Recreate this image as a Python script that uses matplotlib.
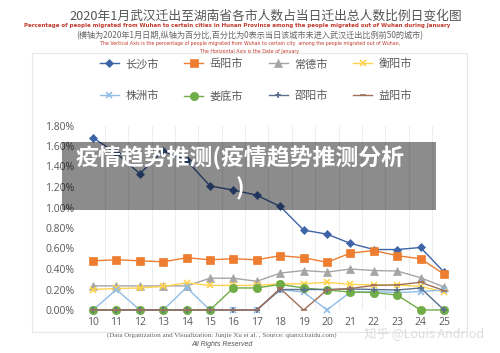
import matplotlib
matplotlib.use("Agg")
import matplotlib.pyplot as plt
from matplotlib.patches import Rectangle
from matplotlib.ticker import FuncFormatter

plt.rcParams['font.family'] = ['Noto Sans CJK SC', 'DejaVu Sans']

days = [10, 11, 12, 13, 14, 15, 16, 17, 18, 19, 20, 21, 22, 23, 24, 25]

changsha = [1.68, 1.53, 1.33, 1.55, 1.46, 1.21, 1.17, 1.12, 1.01, 0.78, 0.74, 0.65, 0.59, 0.59, 0.61, 0.37]
yueyang = [0.48, 0.49, 0.48, 0.47, 0.51, 0.49, 0.50, 0.49, 0.53, 0.51, 0.465, 0.555, 0.58, 0.53, 0.50, 0.35]
changde = [0.235, 0.235, 0.235, 0.235, 0.235, 0.31, 0.31, 0.28, 0.36, 0.385, 0.37, 0.40, 0.385, 0.38, 0.315, 0.225]
hengyang = [0.20, 0.21, 0.215, 0.23, 0.265, 0.24, 0.24, 0.24, 0.255, 0.255, 0.27, 0.25, 0.245, 0.245, 0.23, 0.175]
zhuzhou = [0, 0.20, 0, 0, 0.22, 0, 0, 0, 0.20, 0.175, 0, 0.175, 0.18, 0.17, 0.18, 0.195]
loudi = [0, 0, 0, 0, 0, 0, 0.215, 0.215, 0.25, 0.215, 0.195, 0.175, 0.17, 0.145, 0, 0]
shaoyang = [0, 0, 0, 0, 0, 0, 0, 0, 0.20, 0.20, 0.20, 0.205, 0.20, 0.195, 0.215, 0]
yiyang = [0, 0, 0, 0, 0, 0, 0, 0, 0.21, 0, 0.195, 0.21, 0.24, 0.245, 0.27, 0.19]

series = [
    ("长沙市", changsha, "#3e64a8", "D", 4),
    ("岳阳市", yueyang, "#ed7d31", "s", 6),
    ("常德市", changde, "#a5a5a5", "^", 6),
    ("衡阳市", hengyang, "#ffd34d", "x", 5),
    ("株洲市", zhuzhou, "#8fbde6", "x", 5),
    ("娄底市", loudi, "#70ad47", "o", 6),
    ("邵阳市", shaoyang, "#5b6f8f", "+", 5),
    ("益阳市", yiyang, "#a0705a", "_", 5),
]

W, H = 500, 353
fig = plt.figure(figsize=(5, 3.53), dpi=100)
fig.patch.set_facecolor("white")

def fx(px):
    return px / W

def fy(py):
    return 1 - py / H

# frame around chart
fig.add_artist(Rectangle((fx(32), fy(332)), fx(435), (332 - 53) / H, transform=fig.transFigure,
                         fill=False, edgecolor="#e8e8e8", linewidth=0.8))

fig.text(fx(266), fy(16), "2020年1月武汉迁出至湖南省各市人数占当日迁出总人数比例日变化图",
         ha="center", va="center", fontsize=9.2, color="#555555")
fig.text(fx(237), fy(26), "Percentage of people migrated from Wuhan to certain cities in Hunan Province among the people migrated out of Wuhan during January",
         ha="center", va="center", fontsize=3.95, color="#c0392b", fontweight="bold",
         family=["DejaVu Sans"])
fig.text(fx(250), fy(36), "(横轴为2020年1月日期,纵轴为百分比,百分比为0表示当日该城市未进入武汉迁出比例前50的城市)",
         ha="center", va="center", fontsize=5.9, color="#666666")
fig.text(fx(250), fy(44), "The Vertical Axis is the percentage of people migrated from Wuhan to certain city  among the people migrated out of Wuhan,",
         ha="center", va="center", fontsize=3.4, color="#c0392b", family=["DejaVu Sans"])
fig.text(fx(250), fy(51), "The Horizontal Axis is the Date of January",
         ha="center", va="center", fontsize=3.4, color="#c0392b", family=["DejaVu Sans"])

ax = fig.add_axes([fx(81.3), fy(310), fx(455.7 - 81.3), (310 - 125.5) / H])
handles = {}
for name, vals, col, mk, ms in series:
    mew = 1.2 if mk in ("x", "+", "_") else 0.5
    ln, = ax.plot(days, vals, color=col, marker=mk, markersize=ms, linewidth=1.0,
                  markeredgewidth=mew, clip_on=False, label=name, zorder=3)
    handles[name] = ln

ax.set_xlim(9.5, 25.5)
ax.set_ylim(0, 1.8)
ax.set_xticks(days)
ax.set_xticklabels([str(d) for d in days], family=["Open Sans"], fontsize=7.5, color="#595959")
ax.set_yticks([0, 0.2, 0.4, 0.6, 0.8, 1.0, 1.2, 1.4, 1.6, 1.8])
ax.yaxis.set_major_formatter(FuncFormatter(lambda v, p: "%.2f%%" % v))
for lab in ax.get_yticklabels():
    lab.set_family(["Open Sans"])
    lab.set_fontsize(7.5)
    lab.set_color("#595959")
ax.tick_params(length=0, pad=5)
ax.set_xticks([d + 0.5 for d in days[:-1]], minor=True)
ax.grid(True, which="minor", axis="x", color="#eeeeee", linewidth=0.8)
ax.tick_params(which="minor", length=0)
for sp in ax.spines.values():
    sp.set_visible(False)
ax.set_facecolor("none")

order = ["长沙市", "株洲市", "岳阳市", "娄底市", "常德市", "邵阳市", "衡阳市", "益阳市"]
fig.legend([handles[n] for n in order], order, ncol=4, loc="center",
           bbox_to_anchor=(fx(256), fy(80)), frameon=False, fontsize=8,
           labelcolor="#595959", handlelength=1.7, handletextpad=0.6,
           columnspacing=2.3, labelspacing=1.9)

fig.text(fx(222), fy(335), "(Data Organization and Visualization: Junjie Xu et al. , Source: qianxi.baidu.com)",
         ha="center", va="center", fontsize=5, color="#666666", family=["Liberation Serif"])
fig.text(fx(222), fy(344), "All Rights Reserved", ha="center", va="center", fontsize=5,
         color="#555555", style="italic", family=["Liberation Sans"])

# overlay banner
fig.add_artist(Rectangle((fx(62), fy(210)), fx(436 - 62), (210 - 142) / H, transform=fig.transFigure,
                         facecolor="black", alpha=0.45, edgecolor="none", zorder=10))
fig.text(fx(240), fy(158), "疫情趋势推测(疫情趋势推测分析", ha="center", va="center",
         fontsize=16.5, color="white", fontweight="bold", zorder=11)
fig.text(fx(240), fy(189), ")", ha="center", va="center",
         fontsize=16.5, color="white", fontweight="bold", zorder=11)

fig.text(fx(424), fy(334), "知乎 @Louis Andriod", ha="center", va="center", fontsize=9,
         color="#d8d8d8", alpha=0.9, zorder=11)

fig.savefig("out.png", dpi=100)
